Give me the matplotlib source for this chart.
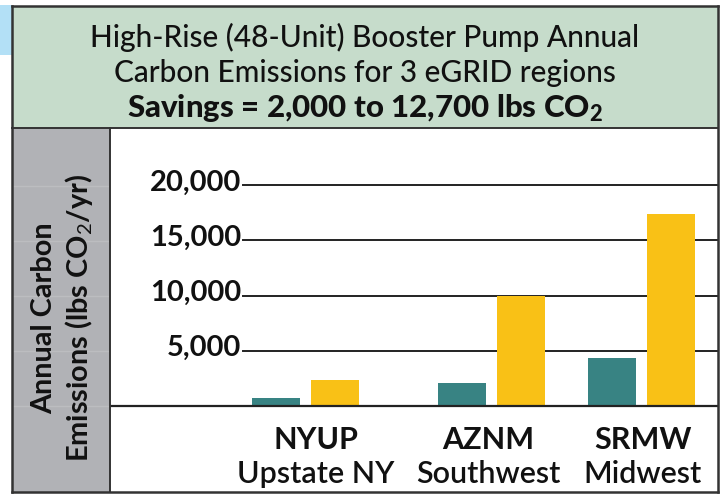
import matplotlib
matplotlib.use("Agg")
import matplotlib.pyplot as plt
from matplotlib.patches import Rectangle
from matplotlib.lines import Line2D

plt.rcParams['font.family'] = ['Lato', 'DejaVu Sans']
plt.rcParams['mathtext.fontset'] = 'custom'
plt.rcParams['mathtext.rm'] = 'Lato'
plt.rcParams['mathtext.bf'] = 'Lato:black'
plt.rcParams['mathtext.it'] = 'Lato'

# ---- data ----
regions = ["NYUP", "AZNM", "SRMW"]
region_names = ["Upstate NY", "Southwest", "Midwest"]
baseline_vals = [700, 2050, 4320]      # teal bars
standard_vals = [2320, 9950, 17400]    # yellow bars
yticks = [5000, 10000, 15000, 20000]
ytick_labels = ["5,000", "10,000", "15,000", "20,000"]
title_lines = ["High-Rise (48-Unit) Booster Pump Annual",
               "Carbon Emissions for 3 eGRID regions"]
title_bold = r"Savings = 2,000 to 12,700 lbs CO$_\mathbf{2}$"
ylabel_lines = "Annual Carbon\nEmissions (lbs CO$_2$/yr)"

# ---- layout ----
W, H = 725, 497
fig = plt.figure(figsize=(W / 100, H / 100), dpi=100)
fig.patch.set_facecolor('white')

def fx(x): return x / W
def fy(y): return 1 - y / H

TEAL = '#388383'
YELLOW = '#f9c116'
GREEN = '#c6dccb'
GRAY = '#b1b2b6'
EDGE = '#333333'
INK = '#111111'

# blue tab at top-left
fig.patches.append(Rectangle((fx(0), fy(55)), fx(12), 50 / H, transform=fig.transFigure,
                             facecolor='#b3e0f6', edgecolor='none', zorder=0))
# header
fig.patches.append(Rectangle((fx(12), fy(128)), fx(718 - 12), (128 - 6) / H, transform=fig.transFigure,
                             facecolor=GREEN, edgecolor='none', zorder=0))
# gray panel
fig.patches.append(Rectangle((fx(12), fy(492)), fx(110 - 12), (492 - 128) / H, transform=fig.transFigure,
                             facecolor=GRAY, edgecolor='none', zorder=0))

# plot axes (white area)
ax = fig.add_axes([fx(110), fy(492), fx(718 - 110), (492 - 128) / H])
ax.set_facecolor('white')
centers = [0.0, 1.0, 1.81]
label_x = [0.057, 0.984, 1.819]
px = 185.5  # pixels per unit
ppk = 11.0  # pixels per 1000
ax.set_xlim((110 - 305.5) / px, (718 - 305.5) / px)
ax.set_ylim((405.5 - 492) / ppk * 1000, (405.5 - 128) / ppk * 1000)
for s in ax.spines.values():
    s.set_visible(False)
ax.set_xticks([])
ax.set_yticks([])

bw = 48 / px
off = 29.5 / px
ax.bar([c - off for c in centers], baseline_vals, width=bw, color=TEAL, zorder=3)
ax.bar([c + off for c in centers], standard_vals, width=bw, color=YELLOW, zorder=3)

ax.axhline(0, color='#222222', lw=1.6, zorder=4)
xmin_frac = (243 - 110) / (718 - 110)
for v, lab in zip(yticks, ytick_labels):
    ax.axhline(v, xmin=xmin_frac, xmax=1, color='#222222', lw=1.4, zorder=2)
    ax.text((241 - 305.5) / px, v - 5 / ppk * 1000, lab, ha='right', va='baseline',
            fontsize=21, fontweight='bold', color=INK)

# faint gridline traces inside the gray panel
for v in [0] + yticks:
    yy = 405.5 - v / 1000 * ppk
    fig.lines.append(Line2D([fx(13), fx(109)], [fy(yy), fy(yy)], transform=fig.transFigure,
                            color='#bcbdc0', lw=1.0, zorder=1))

for x, r, n in zip(label_x, regions, region_names):
    ax.text(x, -(449 - 405.5) / ppk * 1000, r, ha='center', va='baseline',
            fontsize=22, fontweight='bold', color=INK)
    ax.text(x, -(483 - 405.5) / ppk * 1000, n, ha='center', va='baseline',
            fontsize=22, fontweight='semibold', color=INK)

# titles
fig.text(fx(365), fy(47), title_lines[0], ha='center', va='baseline', fontsize=21.5,
         fontweight='medium', color=INK)
fig.text(fx(365), fy(82), title_lines[1], ha='center', va='baseline', fontsize=21.5,
         fontweight='medium', color=INK)
fig.text(fx(365), fy(117), title_bold, ha='center', va='baseline', fontsize=22.5,
         fontweight='black', color=INK)

# y label
fig.text(fx(63), fy(318), ylabel_lines, ha='center', va='center', rotation=90,
         fontsize=20.8, fontweight='bold', color=INK, multialignment='center',
         linespacing=1.25)

# borders
lw = 1.8
def line(x0, y0, x1, y1, w=lw):
    fig.lines.append(Line2D([fx(x0), fx(x1)], [fy(y0), fy(y1)], transform=fig.transFigure,
                            color=EDGE, lw=w, zorder=10))
line(12, 6, 718, 6)
line(12, 492, 718, 492)
line(12, 6, 12, 492)
line(718, 6, 718, 492)
line(12, 128, 718, 128, 1.4)
line(110, 128, 110, 492, 1.4)

fig.savefig('out.png', dpi=100)
